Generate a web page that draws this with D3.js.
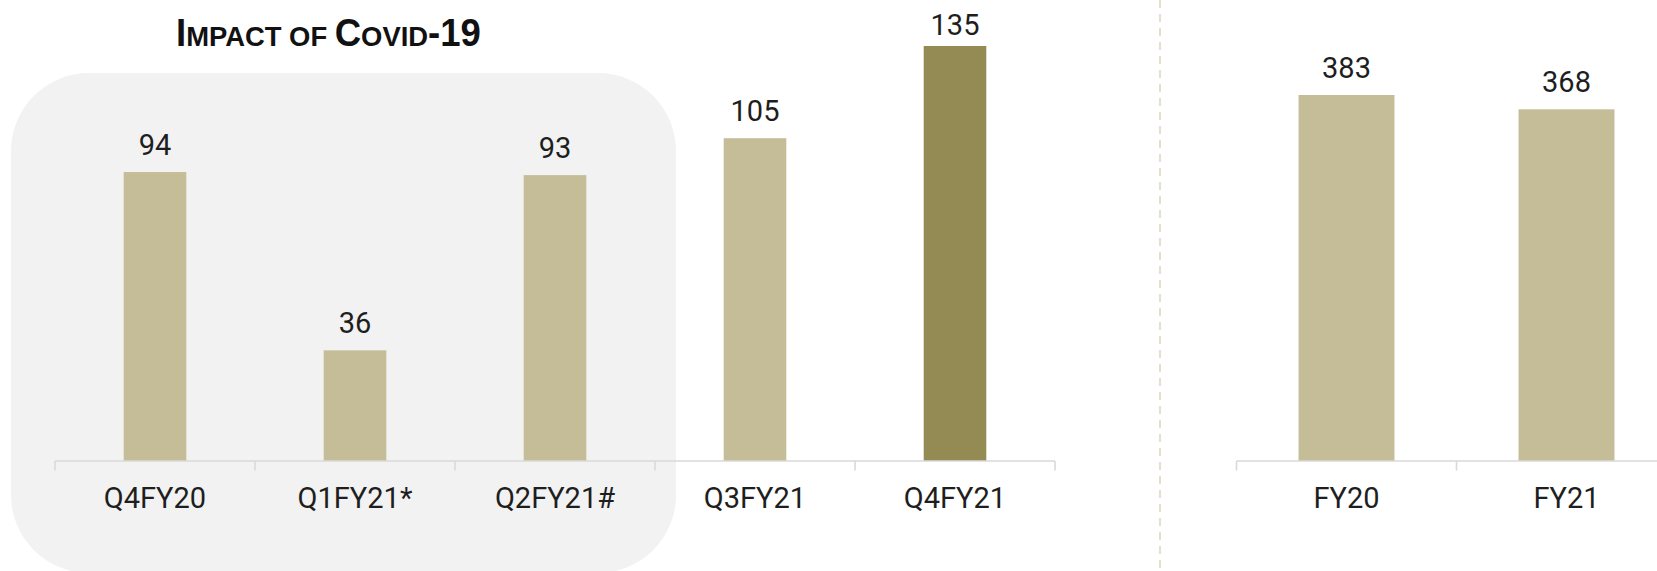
<!DOCTYPE html>
<html>
<head>
<meta charset="utf-8">
<script src="https://cdn.jsdelivr.net/npm/d3@7"></script>
<style>
  html, body { margin: 0; padding: 0; background: #ffffff; }
  svg { display: block; }
  .lbl { font-family: Roboto, "Noto Sans", "DejaVu Sans", sans-serif; font-size: 29px; fill: #1e1e1e; }
  .title { font-family: "Liberation Sans", Arial, sans-serif; font-weight: bold; fill: #111; }
</style>
</head>
<body>
<svg id="chart" width="1657" height="571"></svg>
<script>
// ---- data ----
const quarterCats = ["Q4FY20", "Q1FY21*", "Q2FY21#", "Q3FY21", "Q4FY21"];
const quarterVals = [94, 36, 93, 105, 135];
const highlightCat = "Q4FY21";
const yearCats = ["FY20", "FY21"];
const yearVals = [383, 368];
// title pieces: [text, isCapital]
const titleParts = [["I", true], ["MPACT OF ", false], ["C", true], ["OVID", false], ["-19", true]];

// ---- styles ----
const lightCol = "#c4bd97";
const darkCol = "#948a54";
const axisCol = "#d9d9d9";
const panelCol = "#f2f2f2";

const svg = d3.select("#chart");

// highlighted rounded panel
svg.append("rect")
  .attr("x", 11).attr("y", 73)
  .attr("width", 665).attr("height", 500)
  .attr("rx", 78).attr("ry", 78)
  .attr("fill", panelCol);

// dashed separator
svg.append("line")
  .attr("x1", 1160).attr("x2", 1160)
  .attr("y1", 0).attr("y2", 571)
  .attr("stroke", "#e4e0cc").attr("stroke-width", 2)
  .attr("stroke-dasharray", "8,6");

// title (bold, condensed by horizontal scaling to the reference width)
const titleG = svg.append("g");
const title = titleG.append("text").attr("class", "title")
  .attr("x", 0).attr("y", 0);
titleParts.forEach(([t, big]) => {
  title.append("tspan").text(t).attr("font-size", big ? 38 : 28.5);
});
const tw = title.node().getComputedTextLength();
const targetW = 305;
titleG.attr("transform", `translate(176,46) scale(${targetW / tw},1)`);

const baseY = 461;
const pad = 0.687;

function drawPanel(cats, vals, x0, x1, yMax, yTop, padIn) {
  const xb = d3.scaleBand().domain(cats).range([x0, x1]).paddingInner(padIn).paddingOuter(padIn / 2);
  const xa = d3.scaleBand().domain(cats).range([x0, x1]).padding(0);
  const y = d3.scaleLinear().domain([0, yMax]).range([baseY, yTop]);
  const g = svg.append("g");
  const data = cats.map((c, i) => ({ c, v: vals[i] }));

  g.selectAll("rect.bar").data(data).join("rect")
    .attr("class", "bar")
    .attr("x", d => xb(d.c))
    .attr("width", xb.bandwidth())
    .attr("y", d => y(d.v))
    .attr("height", d => baseY - y(d.v))
    .attr("fill", d => d.c === highlightCat ? darkCol : lightCol);

  // axis line
  g.append("line")
    .attr("x1", x0).attr("x2", x1)
    .attr("y1", baseY).attr("y2", baseY)
    .attr("stroke", axisCol).attr("stroke-width", 1.6);
  // boundary ticks
  const bounds = cats.map(c => xa(c)).concat([x1]);
  g.selectAll("line.tick").data(bounds).join("line")
    .attr("class", "tick")
    .attr("x1", d => d).attr("x2", d => d)
    .attr("y1", baseY).attr("y2", baseY + 9.5)
    .attr("stroke", axisCol).attr("stroke-width", 1.6);

  // category labels
  g.selectAll("text.cat").data(data).join("text")
    .attr("class", "lbl cat")
    .attr("x", d => xb(d.c) + xb.bandwidth() / 2)
    .attr("y", 508)
    .attr("text-anchor", "middle")
    .text(d => d.c);

  // value labels
  g.selectAll("text.val").data(data).join("text")
    .attr("class", "lbl val")
    .attr("x", d => xb(d.c) + xb.bandwidth() / 2)
    .attr("y", d => Math.max(y(d.v) - 17, 35))
    .attr("text-anchor", "middle")
    .text(d => d.v);
}

drawPanel(quarterCats, quarterVals, 55, 1055, 135, 46, pad);
drawPanel(yearCats, yearVals, 1236.5, 1676.5, 383, 95, 0.564);
</script>
</body>
</html>
